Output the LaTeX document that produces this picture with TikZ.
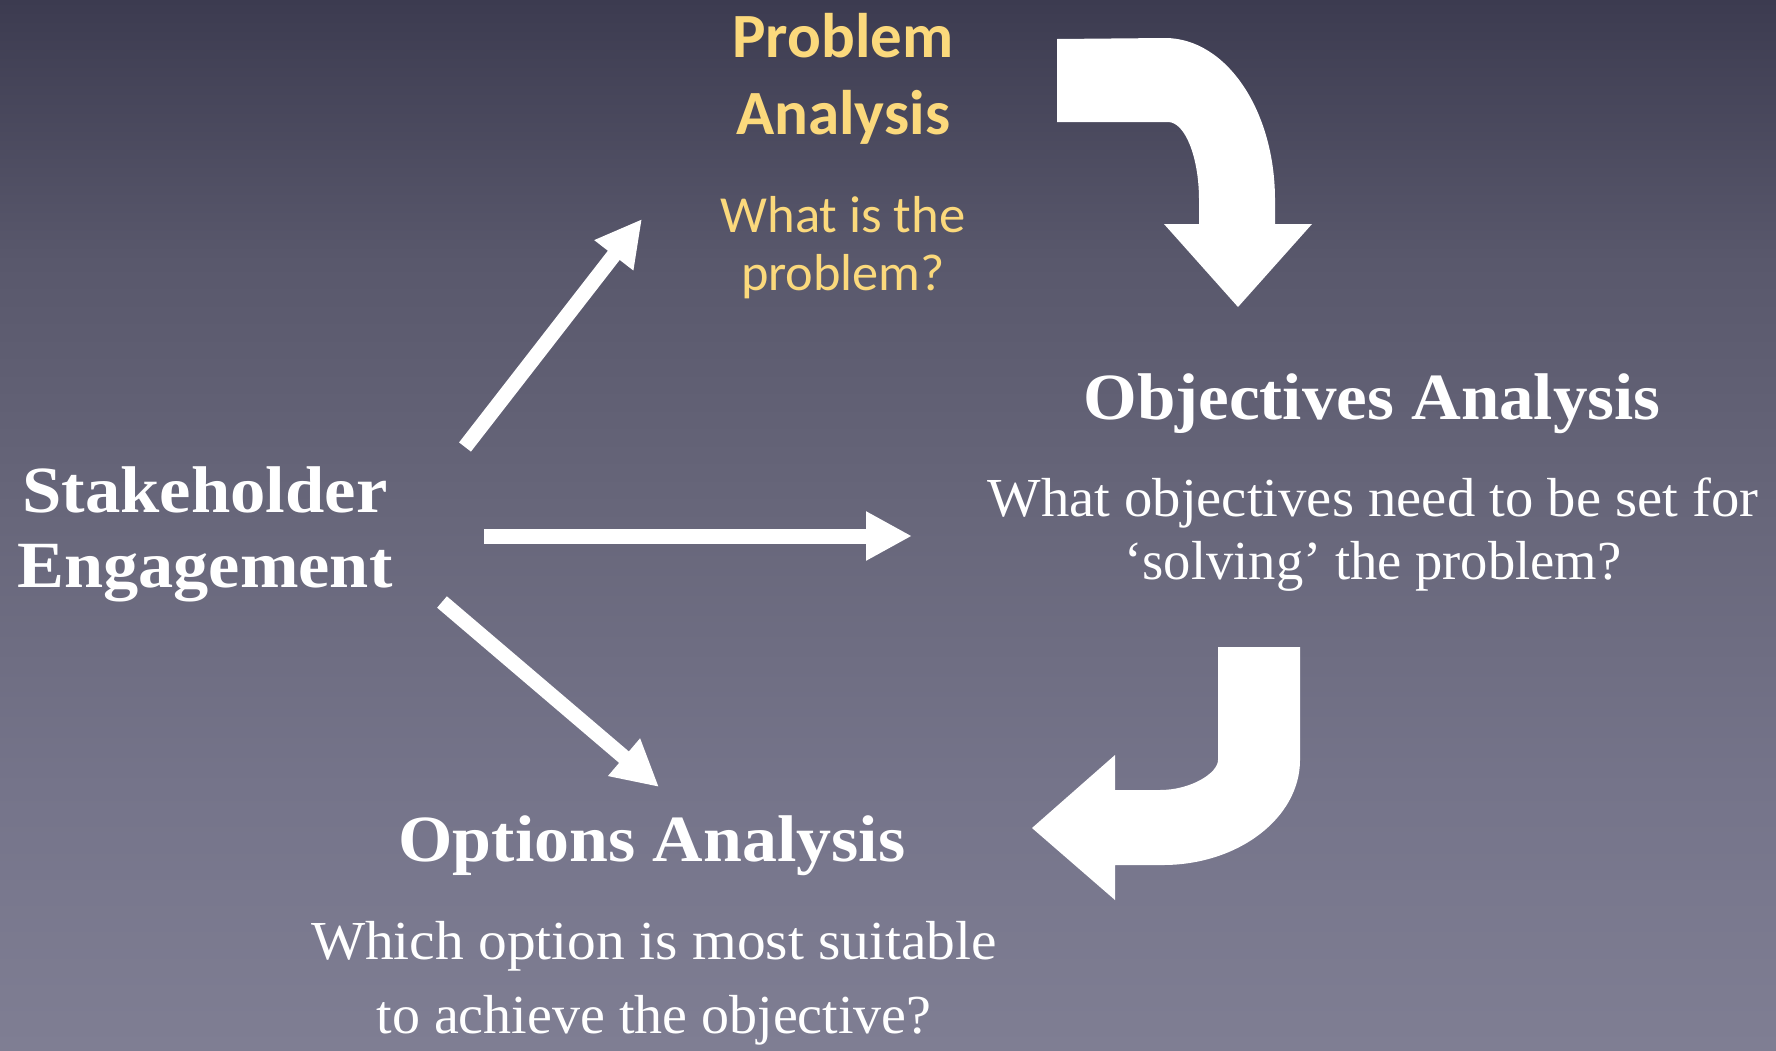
\documentclass[tikz,border=0pt]{standalone}
\usepackage{fontspec}
\usepackage{graphicx}
\usetikzlibrary{arrows.meta}
\setmainfont{Liberation Serif}
\newfontfamily\calibfont{Carlito}
\definecolor{ptitle}{HTML}{FBD97C}
\definecolor{ctop}{HTML}{3C3B50}
\definecolor{cqa}{HTML}{59586C}
\definecolor{cqb}{HTML}{68677B}
\definecolor{cqc}{HTML}{75748A}
\definecolor{cbot}{HTML}{7F7E93}
\pgfdeclareverticalshading{bgshade}{100bp}{color(0bp)=(cbot); color(25bp)=(cbot); color(37.5bp)=(cqc); color(50bp)=(cqb); color(62.5bp)=(cqa); color(75bp)=(ctop); color(100bp)=(ctop)}
\newcommand\fitto[2]{\resizebox{#1pt}{\height}{#2}}
\begin{document}
\begin{tikzpicture}[x=1pt,y=-1pt,
  txt/.style={anchor=base, inner sep=0pt, text=white},
  bighead/.style={txt, font=\fontsize{66pt}{70pt}\selectfont\bfseries},
  question/.style={txt, font=\fontsize{55pt}{60pt}\selectfont},
  probhead/.style={txt, text=ptitle, font=\calibfont\fontsize{63pt}{66pt}\selectfont\bfseries},
  probq/.style={txt, text=ptitle, font=\calibfont\fontsize{52pt}{56pt}\selectfont},
  flow/.style={draw=white, line width=15pt, -{Triangle[length=46pt,width=46pt]}},
  blockarrow/.style={fill=white, draw=none}]
\useasboundingbox (0,0) rectangle (1776,1050);
\shade[shading=bgshade] (0,0) rectangle (1776,1050);

% Stakeholder Engagement
\node[bighead] (sh1) at (205,512) {\fitto{365}{Stakeholder}};
\node[bighead] (sh2) at (205,587) {\fitto{375}{Engagement}};

% Problem Analysis
\node[probhead] (pa1) at (843,57) {\fitto{221}{Problem}};
\node[probhead] (pa2) at (843,134) {\fitto{214}{Analysis}};
\node[probq] (pq1) at (843,232) {\fitto{245}{What is the}};
\node[probq] (pq2) at (843,290) {\fitto{204}{problem?}};

% Objectives Analysis
\node[bighead] (oa1) at (1372,419) {\fitto{577}{Objectives Analysis}};
\node[question] (oq1) at (1373,516) {\fitto{771}{What objectives need to be set for}};
\node[question] (oq2) at (1373,579) {\fitto{497}{‘solving’ the problem?}};

% Options Analysis
\node[bighead] (op1) at (652,861) {\fitto{507}{Options Analysis}};
\node[question] (opq1) at (654,959) {\fitto{686}{Which option is most suitable}};
\node[question] (opq2) at (654,1033) {\fitto{555}{to achieve the objective?}};

% straight arrows
\coordinate (a1s) at (465,447);
\coordinate (a1e) at (642,219);
\coordinate (a2s) at (484,536);
\coordinate (a2e) at (912,536);
\coordinate (a3s) at (442,602);
\coordinate (a3e) at (659,787);
\draw[flow] (a1s) -- (a1e);
\draw[flow] (a2s) -- (a2e);
\draw[flow] (a3s) -- (a3e);

% curved arrow: Problem -> Objectives
\fill[blockarrow] (1057,39) -- (1165,38)
  .. controls (1226,38) and (1275,110) .. (1275,200)
  -- (1275,224) -- (1312,224) -- (1238,307) -- (1164,224) -- (1199,224) -- (1199,200)
  .. controls (1199,157) and (1185,122) .. (1168,122)
  -- (1057,122) -- cycle;

% curved arrow: Objectives -> Options
\fill[blockarrow] (1218,647) -- (1300,647) -- (1300,760)
  .. controls (1300,818) and (1238,865) .. (1163,865)
  -- (1115,865) -- (1115,900) -- (1032,828) -- (1115,755) -- (1115,790) -- (1160,790)
  .. controls (1191,790) and (1218,773) .. (1218,760) -- cycle;
\end{tikzpicture}
\end{document}
